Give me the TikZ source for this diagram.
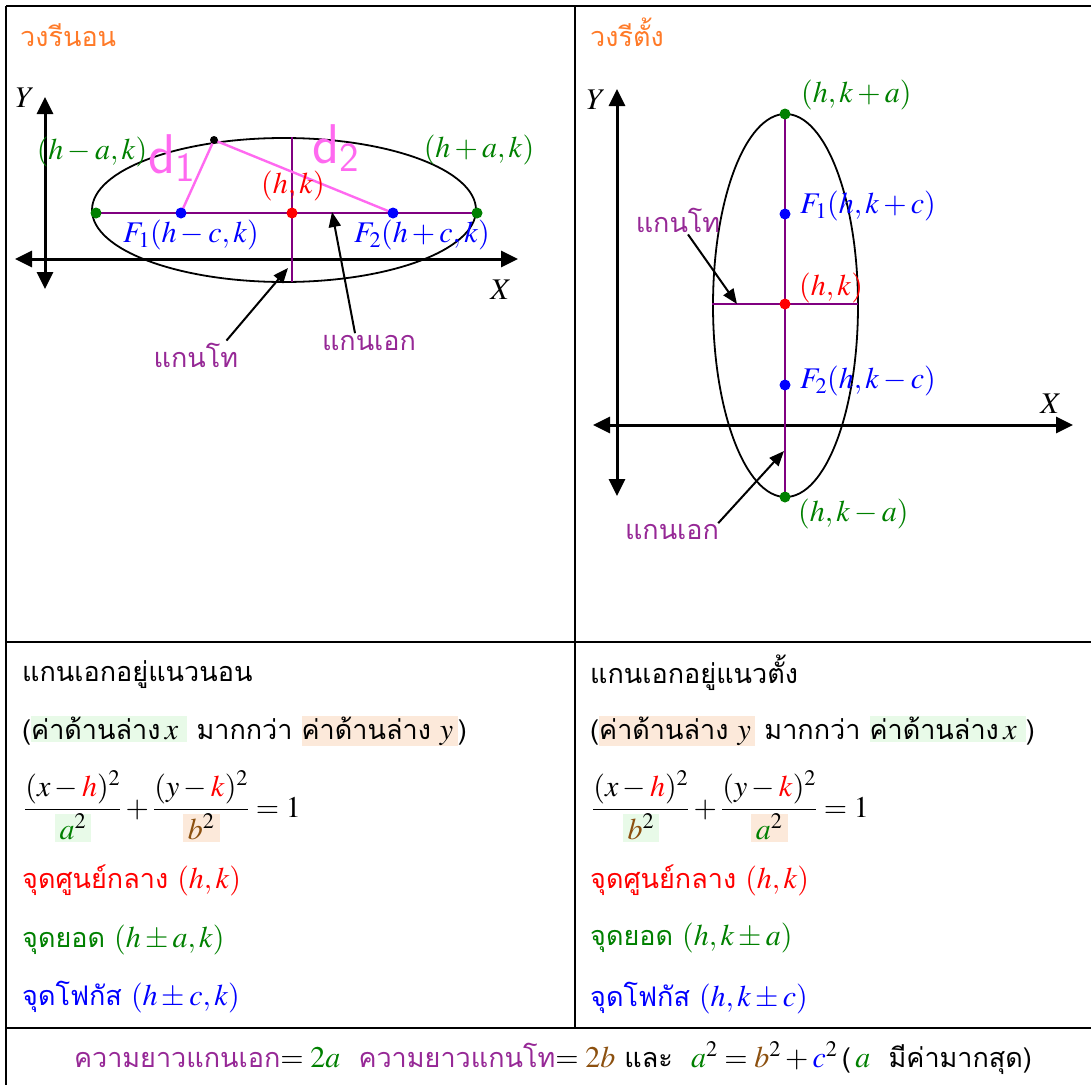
\documentclass[tikz,border=0pt]{standalone}
\usepackage{amsmath}
\usepackage{mathptmx}
\usepackage[no-math]{fontspec}
\usepackage{tikz}
\usetikzlibrary{arrows.meta, positioning, calc}
\newfontfamily\thai[Script=Thai]{Loma}
\definecolor{ttlorange}{RGB}{255,122,40}
\definecolor{axpurple}{RGB}{128,0,128}
\definecolor{lblpurple}{RGB}{150,40,150}
\definecolor{pen}{RGB}{255,105,240}
\definecolor{vgreen}{RGB}{0,128,0}
\definecolor{brn}{RGB}{140,80,15}
\definecolor{hlgreen}{RGB}{232,250,232}
\definecolor{hlorange}{RGB}{252,233,218}
\newcommand\hlbox[2]{{\setlength\fboxsep{0pt}\colorbox{#1}{\rule[-3pt]{0pt}{26pt}#2}}}
\newcommand\mth[1]{{\fontsize{30}{32}\selectfont$#1$}}

\begin{document}
\begin{tikzpicture}[x=1pt, y=-1pt,
   thaitxt/.style={font=\thai\fontsize{27}{30}\selectfont, inner sep=0pt},
   lbl/.style={font=\fontsize{30}{32}\selectfont, inner sep=0pt},
   dot/.style={circle, fill=#1, inner sep=0pt, minimum size=11pt},
   axis/.style={line width=3pt, {Triangle[length=17pt,width=16pt]}-{Triangle[length=17pt,width=16pt]}},
   pointer/.style={line width=2pt, -{Triangle[length=15pt,width=12pt]}},
   rule/.style={line width=2.2pt},
   mainax/.style={axpurple, line width=2pt},
   penline/.style={pen, line width=2.4pt},
   pentxt/.style={text=pen, font=\sffamily\fontsize{56}{56}\selectfont, inner sep=0pt}
]
   \useasboundingbox (0,0) rectangle (1091,1084);

   % Table
   \draw[rule] (6,6) -- (1095,6);
   \draw[rule] (6,6) -- (6,1090);
   \draw[rule] (6,642) -- (1095,642);
   \draw[rule] (6,1028) -- (1095,1028);
   \draw[rule] (575,6) -- (575,1028);

   % Horizontal ellipse
   \node[thaitxt, text=ttlorange, anchor=west] (hz_title) at (20,35) {วงรีนอน};
   \coordinate (hz_xl) at (15,259);
   \coordinate (hz_xr) at (518,259);
   \coordinate (hz_yt) at (45,97);
   \coordinate (hz_yb) at (45,289);
   \draw[axis] (hz_xl) -- (hz_xr);
   \draw[axis] (hz_yb) -- (hz_yt);
   \node[lbl] (hz_ylbl) at (25,98) {$Y$};
   \node[lbl] (hz_xlbl) at (501,290) {$X$};

   \draw[line width=1.8pt] (284,210) ellipse [x radius=192, y radius=72];
   \coordinate (hz_v1) at (96,213);
   \coordinate (hz_v2) at (477,213);
   \coordinate (hz_f1) at (181,213);
   \coordinate (hz_f2) at (393,213);
   \coordinate (hz_c) at (292,213);
   \coordinate (hz_mt) at (292,137);
   \coordinate (hz_mb) at (292,282);
   \coordinate (hz_p) at (214,140);
   \draw[mainax] (hz_v1) -- (hz_v2);
   \draw[mainax] (hz_mt) -- (hz_mb);
   \draw[penline] (hz_f1) -- (hz_p) -- (hz_f2);
   \node[dot=vgreen] at (hz_v1) {};
   \node[dot=vgreen] at (hz_v2) {};
   \node[dot=blue] at (hz_f1) {};
   \node[dot=blue] at (hz_f2) {};
   \node[dot=red] at (hz_c) {};
   \node[dot=black, minimum size=8pt] at (hz_p) {};

   \node[lbl, text=vgreen] (hz_v1lbl) at (92,152) {$(h-a,k)$};
   \node[lbl, text=vgreen] (hz_v2lbl) at (479,150) {$(h+a,k)$};
   \node[lbl, text=red] (hz_clbl) at (293,186) {$(h,k)$};
   \node[lbl, text=blue] (hz_f1lbl) at (191,235) {$F_1(h-c,k)$};
   \node[lbl, text=blue] (hz_f2lbl) at (422,235) {$F_2(h+c,k)$};
   \node[pentxt] (hz_d1) at (172,158) {d\textsubscript{1}};
   \node[pentxt] (hz_d2) at (336,148) {d\textsubscript{2}};

   \node[thaitxt, text=lblpurple] (hz_minlbl) at (196,355) {แกนโท};
   \node[thaitxt, text=lblpurple] (hz_majlbl) at (369,343) {แกนเอก};
   \coordinate (hz_mintip) at (288,268);
   \coordinate (hz_majtip) at (332,212);
   \draw[pointer] ([xshift=-12pt,yshift=2pt]hz_minlbl.north east) -- (hz_mintip);
   \draw[pointer] ([xshift=-14pt,yshift=2pt]hz_majlbl.north) -- (hz_majtip);

   % Vertical ellipse
   \node[thaitxt, text=ttlorange, anchor=west] (vt_title) at (590,32) {วงรีตั้ง};
   \coordinate (vt_xl) at (593,425);
   \coordinate (vt_xr) at (1073,425);
   \coordinate (vt_yt) at (617,89);
   \coordinate (vt_yb) at (617,496);
   \draw[axis] (vt_xl) -- (vt_xr);
   \draw[axis] (vt_yb) -- (vt_yt);
   \node[lbl] (vt_ylbl) at (596,100) {$Y$};
   \node[lbl] (vt_xlbl) at (1051,404) {$X$};

   \draw[line width=1.8pt] (785.5,305.5) ellipse [x radius=72.5, y radius=191.5];
   \coordinate (vt_v1) at (785,114);
   \coordinate (vt_v2) at (785,497);
   \coordinate (vt_f1) at (785,214);
   \coordinate (vt_f2) at (785,385);
   \coordinate (vt_c) at (785,304);
   \coordinate (vt_ml) at (712,304);
   \coordinate (vt_mr) at (858,304);
   \draw[mainax] (vt_v1) -- (vt_v2);
   \draw[mainax] (vt_ml) -- (vt_mr);
   \node[dot=vgreen] at (vt_v1) {};
   \node[dot=vgreen] at (vt_v2) {};
   \node[dot=blue] at (vt_f1) {};
   \node[dot=blue] at (vt_f2) {};
   \node[dot=red] at (vt_c) {};

   \node[lbl, text=vgreen, anchor=west] (vt_v1lbl) at (801,95) {$(h,k+a)$};
   \node[lbl, text=blue, anchor=west] (vt_f1lbl) at (800,206) {$F_1(h,k+c)$};
   \node[lbl, text=red, anchor=west] (vt_clbl) at (799,288) {$(h,k)$};
   \node[lbl, text=blue, anchor=west] (vt_f2lbl) at (800,381) {$F_2(h,k-c)$};
   \node[lbl, text=vgreen, anchor=west] (vt_v2lbl) at (798,514) {$(h,k-a)$};

   \node[thaitxt, text=lblpurple] (vt_minlbl) at (678,220) {แกนโท};
   \node[thaitxt, text=lblpurple] (vt_majlbl) at (672,532) {แกนเอก};
   \coordinate (vt_mintip) at (737,304);
   \coordinate (vt_majtip) at (784,451);
   \draw[pointer] ([xshift=10pt,yshift=-2pt]vt_minlbl.south) -- (vt_mintip);
   \draw[pointer] ([xshift=-1pt,yshift=1pt]vt_majlbl.north east) -- (vt_majtip);

   % Equations, horizontal
   \node[thaitxt, anchor=west] (hz_head) at (22,675) {แกนเอกอยู่แนวนอน};
   \node[thaitxt, anchor=west] (hz_cmp) at (22,731) {(\hlbox{hlgreen}{ค่าด้านล่าง\,\mth{x}\ } มากกว่า \hlbox{hlorange}{ค่าด้านล่าง \mth{y}\,})};
   \node[lbl, anchor=base west] (hz_eq) at (24,817)
      {$\dfrac{(x-\textcolor{red}{h})^2}{\hlbox{hlgreen}{\,$\textcolor{vgreen}{a}^2$\,}}+\dfrac{(y-\textcolor{red}{k})^2}{\hlbox{hlorange}{\,$\textcolor{brn}{b}^2$\,}}=1$};
   \node[thaitxt, text=red, anchor=west] (hz_ctr) at (22,880) {จุดศูนย์กลาง \mth{(h,k)}};
   \node[thaitxt, text=vgreen, anchor=west] (hz_vtx) at (22,940) {จุดยอด \mth{(h\pm a,k)}};
   \node[thaitxt, text=blue, anchor=west] (hz_foc) at (22,997) {จุดโฟกัส \mth{(h\pm c,k)}};

   % Equations, vertical
   \node[thaitxt, anchor=west] (vt_head) at (590,673) {แกนเอกอยู่แนวตั้ง};
   \node[thaitxt, anchor=west] (vt_cmp) at (590,731) {(\hlbox{hlorange}{ค่าด้านล่าง \mth{y}\,} มากกว่า \hlbox{hlgreen}{ค่าด้านล่าง\,\mth{x}\ })};
   \node[lbl, anchor=base west] (vt_eq) at (592,817)
      {$\dfrac{(x-\textcolor{red}{h})^2}{\hlbox{hlgreen}{\,$\textcolor{brn}{b}^2$\,}}+\dfrac{(y-\textcolor{red}{k})^2}{\hlbox{hlorange}{\,$\textcolor{vgreen}{a}^2$\,}}=1$};
   \node[thaitxt, text=red, anchor=west] (vt_ctr) at (590,880) {จุดศูนย์กลาง \mth{(h,k)}};
   \node[thaitxt, text=vgreen, anchor=west] (vt_vtx) at (590,938) {จุดยอด \mth{(h,k\pm a)}};
   \node[thaitxt, text=blue, anchor=west] (vt_foc) at (590,998) {จุดโฟกัส \mth{(h,k\pm c)}};

   % Summary
   \node[thaitxt] (sum) at (553,1058)
      {\textcolor{lblpurple}{ความยาวแกนเอก}\mth{=\textcolor{vgreen}{2a}}\ \
       \textcolor{lblpurple}{ความยาวแกนโท}\mth{=\textcolor{brn}{2b}}\ และ \
       \mth{\textcolor{vgreen}{a}^2=\textcolor{brn}{b}^2+\textcolor{blue}{c}^2}\,(\,\mth{\textcolor{vgreen}{a}} \ มีค่ามากสุด)};
\end{tikzpicture}
\end{document}
